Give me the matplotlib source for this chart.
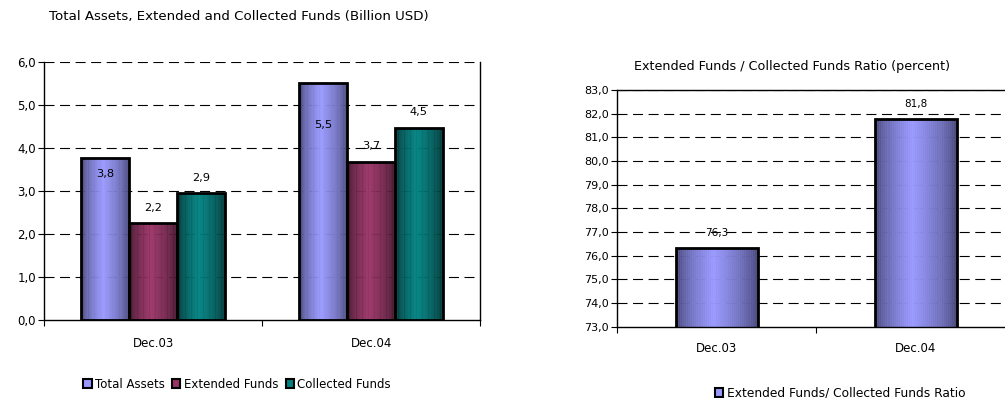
import numpy as np
import matplotlib
matplotlib.use("Agg")
import matplotlib.pyplot as plt
from matplotlib.patches import Patch
from matplotlib.colors import to_rgb

periods = ['Dec.03', 'Dec.04']

series_names = ['Total Assets', 'Extended Funds', 'Collected Funds']
total_assets = [3.77, 5.50]
extended_funds = [2.25, 3.66]
collected_funds = [2.94, 4.46]

ratio_name = 'Extended Funds/ Collected Funds Ratio'
ratio = [76.34, 81.77]

# light (center) and dark (edge) tone for each series
light = ['#9999ff', '#993366', '#008080']
dark = ['#3c3c68', '#361024', '#002a2a']

plt.rcParams['font.family'] = 'DejaVu Sans'
plt.rcParams['font.size'] = 8.5


def fmt(v):
    return ('%.1f' % v).replace('.', ',')


def gradient(c_light, c_dark, n=40):
    t = (np.arange(n) + 0.5) / n
    peak = 0.45
    w = np.where(t < peak, t / peak, (1 - t) / (1 - peak))
    w = w ** 0.6
    a, b = np.array(to_rgb(c_dark)), np.array(to_rgb(c_light))
    return a[None, :] + (b - a)[None, :] * w[:, None]


def shaded_bars(ax, x, vals, width, c_light, c_dark):
    bars = ax.bar(x, vals, width, facecolor='none', edgecolor='black',
                  linewidth=2, zorder=4)
    cols = gradient(c_light, c_dark)
    n = len(cols)
    # fill each bar with thin vertical strips for the cylinder shading
    for b in bars:
        sw = b.get_width() / n
        sx = b.get_x() + sw * np.arange(n)
        ax.bar(sx, b.get_height(), sw, bottom=b.get_y(), align='edge',
               color=cols, edgecolor=cols, linewidth=0.4, zorder=3)
    return bars


def style_axes(ax, ymin, ymax, ncat):
    ax.set_xlim(-0.5, ncat - 0.5)
    ax.set_ylim(ymin, ymax)
    ticks = np.arange(ymin, ymax + 0.5, 1.0)
    ax.set_yticks(ticks)
    ax.set_yticklabels([fmt(v) for v in ticks])
    for v in ticks[1:]:
        ax.axhline(v, color='black', linestyle=(0, (9, 5)), linewidth=0.8,
                   zorder=1)
    ax.set_xticks(np.arange(-0.5, ncat, 1.0))
    ax.set_xticklabels([])
    ax.set_xticks(range(ncat), minor=True)
    ax.set_xticklabels(periods, minor=True)
    ax.tick_params(axis='x', which='minor', length=0, pad=12)
    ax.tick_params(axis='x', which='major', length=4, direction='out')
    ax.tick_params(axis='y', length=4, direction='out', pad=2)
    for s in ax.spines.values():
        s.set_linewidth(1)
        s.set_zorder(5)


fig = plt.figure(figsize=(10.05, 3.98), dpi=100)

# left chart: assets and funds
ax1 = fig.add_axes([0.0441, 0.196, 0.4335, 0.649])
x = np.arange(len(periods))
w = 0.22
groups = [total_assets, extended_funds, collected_funds]
label_offsets = [[-16, -42], [15, 16], [15, 16]]
for i, vals in enumerate(groups):
    pos = x + (i - 1) * w
    shaded_bars(ax1, pos, vals, w, light[i], dark[i])
    for p, v, off in zip(pos, vals, label_offsets[i]):
        ax1.annotate(fmt(v), (p, v), xytext=(0, off), textcoords='offset pixels',
                     ha='center', va='center', fontsize=8.2, zorder=6)
style_axes(ax1, 0.0, 6.0, len(periods))
ax1.spines['top'].set_visible(False)
fig.text(0.049, 0.958, 'Total Assets, Extended and Collected Funds (Billion USD)',
         ha='left', va='center', fontsize=9.6)
handles = [Patch(facecolor=light[i], edgecolor='black', linewidth=1.5)
           for i in range(3)]
fig.legend(handles, series_names, loc='center', bbox_to_anchor=(0.236, 0.035),
           ncol=3, frameon=False, handlelength=0.7, handleheight=0.7,
           handletextpad=0.3, columnspacing=0.6)

# right chart: ratio
ax2 = fig.add_axes([0.6142, 0.1791, 0.3964, 0.5948])
shaded_bars(ax2, x, ratio, 0.41, light[0], dark[0])
for p, v in zip(x, ratio):
    ax2.annotate(fmt(v), (p, v), xytext=(0, 15), textcoords='offset pixels',
                 ha='center', va='center', fontsize=7.5, zorder=6)
style_axes(ax2, 73.0, 83.0, len(periods))
ax2.tick_params(axis='x', which='minor', pad=11, labelsize=8.5)
ax2.tick_params(axis='y', labelsize=8)
fig.text(0.788, 0.8325, 'Extended Funds / Collected Funds Ratio (percent)',
         ha='center', va='center', fontsize=9.2)
fig.legend([Patch(facecolor=light[0], edgecolor='black', linewidth=1.5)],
           [ratio_name], loc='center', bbox_to_anchor=(0.836, 0.012),
           frameon=False, handlelength=0.7, handleheight=0.7,
           handletextpad=0.3, fontsize=8.8)

fig.savefig('out.png', dpi=100, facecolor='white')
